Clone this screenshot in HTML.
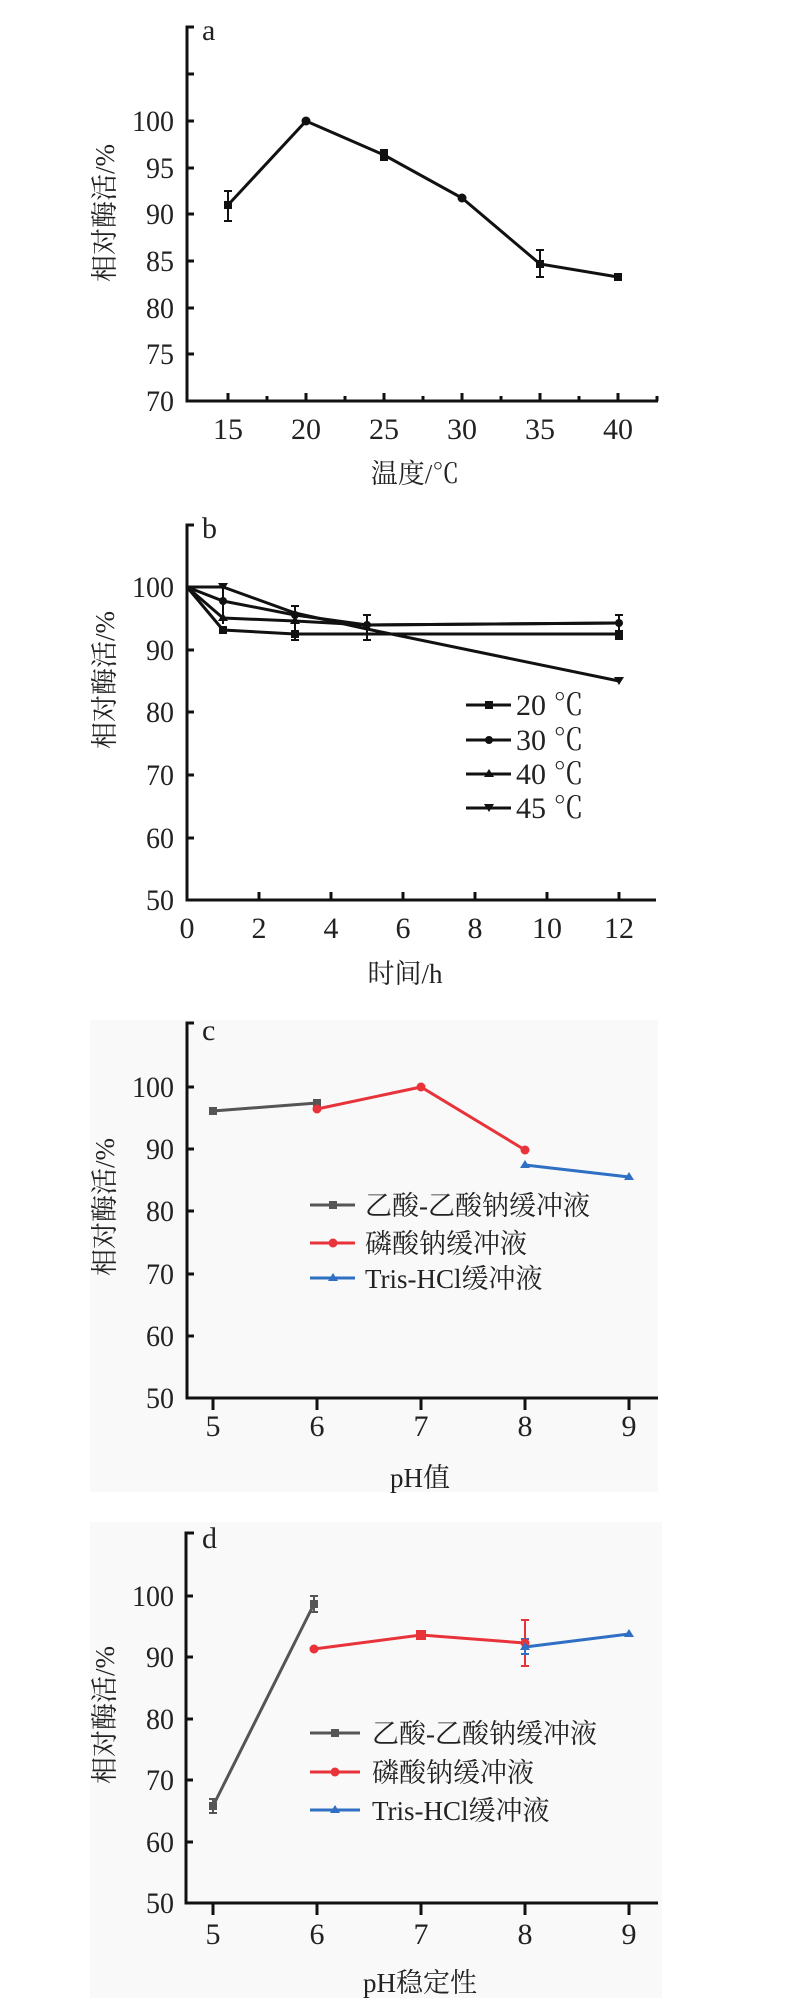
<!DOCTYPE html>
<html><head><meta charset="utf-8"><style>
html,body{margin:0;padding:0;background:#fff}
svg{display:block}
text{font-family:"Liberation Serif","Noto Serif CJK SC",serif;fill:#222}
.t{font-size:30px}
.l{font-family:"Liberation Serif","Noto Serif CJK SC",serif;font-size:27px}
</style></head><body>
<svg width="790" height="2015" viewBox="0 0 790 2015" xmlns="http://www.w3.org/2000/svg">
<rect x="90" y="1020" width="568" height="472" fill="#f9f9f9"/>
<rect x="90" y="1522" width="572" height="476" fill="#f9f9f9"/>

<!-- Chart a -->
<g stroke="#111" stroke-width="3" fill="none">
<path d="M194 27 H187 V401 H658"/>
<path d="M187 74h7M187 121h7M187 168h7M187 214h7M187 261h7M187 308h7M187 354h7"/>
<path d="M228 401v-8M306 401v-8M384 401v-8M462 401v-8M540 401v-8M618 401v-8M267 401v-5M345 401v-5M423 401v-5M501 401v-5M579 401v-5M657 401v-5"/>
<polyline points="228,205 306,121 384,155 462,198 540,264 618,277"/>
<path stroke-width="2" d="M228 191v30M224 191h8M224 221h8M384 150v10M380 150h8M380 160h8M540 250v27M536 250h8M536 277h8"/>
</g>
<g fill="#111"><rect x="224" y="201" width="8" height="8"/><circle cx="306" cy="121" r="4.5"/><rect x="380" y="151" width="8" height="8"/><circle cx="462" cy="198" r="4.5"/><rect x="536" y="260" width="8" height="8"/><rect x="614" y="273" width="8" height="8"/></g>
<text x="202" y="40" class="t" font-size="26">a</text>
<g class="t" text-anchor="end">
<text x="174" y="131" textLength="42" lengthAdjust="spacingAndGlyphs">100</text>
<text x="174" y="178" textLength="28" lengthAdjust="spacingAndGlyphs">95</text>
<text x="174" y="224" textLength="28" lengthAdjust="spacingAndGlyphs">90</text>
<text x="174" y="271" textLength="28" lengthAdjust="spacingAndGlyphs">85</text>
<text x="174" y="318" textLength="28" lengthAdjust="spacingAndGlyphs">80</text>
<text x="174" y="364" textLength="28" lengthAdjust="spacingAndGlyphs">75</text>
<text x="174" y="411" textLength="28" lengthAdjust="spacingAndGlyphs">70</text>
</g>
<g class="t" text-anchor="middle">
<text x="228" y="439">15</text><text x="306" y="439">20</text><text x="384" y="439">25</text><text x="462" y="439">30</text><text x="540" y="439">35</text><text x="618" y="439">40</text>
</g>
<text x="415" y="483" class="l" text-anchor="middle" font-size="28">温度/℃</text>
<text transform="translate(114,213) rotate(-90)" class="l" text-anchor="middle" font-size="28">相对酶活/%</text>

<!-- Chart b -->
<g stroke="#111" stroke-width="3" fill="none">
<path d="M194 525 H187 V900 H656"/>
<path d="M187 587h7M187 650h7M187 712h7M187 775h7M187 838h7"/>
<path d="M259 900v-8M331 900v-8M403 900v-8M475 900v-8M547 900v-8M619 900v-8"/>
<polyline points="187,587 223,630 295,634 367,634 619,634"/>
<polyline points="187,587 223,601 295,615 367,625 619,623"/>
<polyline points="187,587 223,618 295,621 367,625 619,623"/>
<polyline points="187,587 223,587 295,613 367,629 619,681"/>
<path stroke-width="2" d="M295 606v34M291 606h8M291 640h8M367 615v25M363 615h8M363 640h8M619 615v24M615 615h8M615 639h8M223 584v40"/>
<path d="M466 705h45M466 740h45M466 774h45M466 808h45"/>
</g>
<g fill="#111">
<rect x="219" y="626" width="8" height="8"/><rect x="291" y="630" width="8" height="8"/><rect x="615" y="630" width="8" height="8"/>
<circle cx="223" cy="601" r="4"/><circle cx="295" cy="615" r="4"/><circle cx="367" cy="625" r="4"/><circle cx="619" cy="623" r="4"/>
<path d="M223 613l5 8h-10zM295 616l5 8h-10z"/>
<path d="M218 583h10l-5 8zM614 677h10l-5 8z"/>
<rect x="485" y="701" width="8" height="8"/><circle cx="489" cy="740" r="4"/><path d="M489 769l5 8h-10z"/><path d="M484 804h10l-5 8z"/>
</g>
<text x="202" y="538" class="t" font-size="26">b</text>
<g class="t" text-anchor="end">
<text x="174" y="597" textLength="42" lengthAdjust="spacingAndGlyphs">100</text>
<text x="174" y="660" textLength="28" lengthAdjust="spacingAndGlyphs">90</text>
<text x="174" y="722" textLength="28" lengthAdjust="spacingAndGlyphs">80</text>
<text x="174" y="785" textLength="28" lengthAdjust="spacingAndGlyphs">70</text>
<text x="174" y="848" textLength="28" lengthAdjust="spacingAndGlyphs">60</text>
<text x="174" y="910" textLength="28" lengthAdjust="spacingAndGlyphs">50</text>
</g>
<g class="t" text-anchor="middle">
<text x="187" y="938">0</text><text x="259" y="938">2</text><text x="331" y="938">4</text><text x="403" y="938">6</text><text x="475" y="938">8</text><text x="547" y="938">10</text><text x="619" y="938">12</text>
</g>
<g class="t" font-size="28"><text x="516" y="715">20 ℃</text><text x="516" y="750">30 ℃</text><text x="516" y="784">40 ℃</text><text x="516" y="818">45 ℃</text></g>
<text x="405" y="983" class="l" text-anchor="middle" font-size="28">时间/h</text>
<text transform="translate(114,680) rotate(-90)" class="l" text-anchor="middle" font-size="28">相对酶活/%</text>

<!-- Chart c -->
<g stroke="#111" stroke-width="3" fill="none">
<path d="M194 1023 H187 V1398 H658"/>
<path d="M187 1087h7M187 1149h7M187 1211h7M187 1274h7M187 1336h7"/>
<path d="M213 1398v12M317 1398v12M421 1398v12M525 1398v12M629 1398v12"/>
</g>
<g stroke-width="3" fill="none">
<polyline stroke="#555" points="213,1111 317,1103"/>
<polyline stroke="#e8333a" points="317,1109 421,1087 525,1150"/>
<polyline stroke="#2f6fc4" points="525,1165 629,1177"/>
<path stroke="#555" d="M310 1205h45"/><path stroke="#e8333a" d="M310 1243h45"/><path stroke="#2f6fc4" d="M310 1278h45"/>
</g>
<rect x="209" y="1107" width="8" height="8" fill="#555"/><rect x="313" y="1099" width="8" height="8" fill="#555"/>
<circle cx="317" cy="1109" r="4.5" fill="#e8333a"/><circle cx="421" cy="1087" r="4.5" fill="#e8333a"/><circle cx="525" cy="1150" r="4.5" fill="#e8333a"/>
<path d="M525 1160l5 8h-10zM629 1172l5 8h-10z" fill="#2f6fc4"/>
<rect x="329" y="1201" width="8" height="8" fill="#555"/><circle cx="333" cy="1243" r="4.5" fill="#e8333a"/><path d="M333 1273l5 8h-10z" fill="#2f6fc4"/>
<text x="202" y="1040" class="t" font-size="26">c</text>
<g class="t" text-anchor="end">
<text x="174" y="1097" textLength="42" lengthAdjust="spacingAndGlyphs">100</text>
<text x="174" y="1159" textLength="28" lengthAdjust="spacingAndGlyphs">90</text>
<text x="174" y="1221" textLength="28" lengthAdjust="spacingAndGlyphs">80</text>
<text x="174" y="1284" textLength="28" lengthAdjust="spacingAndGlyphs">70</text>
<text x="174" y="1346" textLength="28" lengthAdjust="spacingAndGlyphs">60</text>
<text x="174" y="1408" textLength="28" lengthAdjust="spacingAndGlyphs">50</text>
</g>
<g class="t" text-anchor="middle">
<text x="213" y="1436">5</text><text x="317" y="1436">6</text><text x="421" y="1436">7</text><text x="525" y="1436">8</text><text x="629" y="1436">9</text>
</g>
<g class="l"><text x="365" y="1215">乙酸-乙酸钠缓冲液</text><text x="365" y="1253">磷酸钠缓冲液</text><text x="365" y="1288">Tris-HCl缓冲液</text></g>
<text x="420" y="1487" class="l" text-anchor="middle" font-size="28">pH值</text>
<text transform="translate(114,1207) rotate(-90)" class="l" text-anchor="middle" font-size="28">相对酶活/%</text>

<!-- Chart d -->
<g stroke="#111" stroke-width="3" fill="none">
<path d="M194 1533 H186 V1903 H658"/>
<path d="M186 1596h7M186 1657h7M186 1719h7M186 1780h7M186 1842h7"/>
<path d="M213 1903v12M317 1903v12M421 1903v12M525 1903v12M629 1903v12"/>
</g>
<g stroke-width="3" fill="none">
<polyline stroke="#555" points="213,1806 314,1604"/>
<polyline stroke="#e8333a" points="314,1649 421,1635 525,1643"/>
<polyline stroke="#2f6fc4" points="525,1647 629,1634"/>
<path stroke="#555" stroke-width="2" d="M213 1799v14M209 1799h8M209 1813h8M314 1596v16M310 1596h8M310 1612h8"/>
<path stroke="#e8333a" stroke-width="2" d="M525 1620v46M521 1620h8M521 1666h8M421 1632v6"/>
<path stroke="#2f6fc4" stroke-width="2" d="M525 1639v15M521 1639h8M521 1654h8"/>
<path stroke="#555" d="M310 1733h50"/><path stroke="#e8333a" d="M310 1772h50"/><path stroke="#2f6fc4" d="M310 1810h50"/>
</g>
<rect x="209" y="1802" width="8" height="8" fill="#555"/><rect x="310" y="1600" width="8" height="8" fill="#555"/>
<circle cx="314" cy="1649" r="4.5" fill="#e8333a"/><rect x="416" y="1630" width="10" height="10" fill="#e8333a"/><circle cx="525" cy="1643" r="4.5" fill="#e8333a"/>
<path d="M525 1642l5 8h-10zM629 1629l5 8h-10z" fill="#2f6fc4"/>
<rect x="331" y="1729" width="8" height="8" fill="#555"/><circle cx="335" cy="1772" r="4.5" fill="#e8333a"/><path d="M335 1805l5 8h-10z" fill="#2f6fc4"/>
<text x="202" y="1548" class="t" font-size="26">d</text>
<g class="t" text-anchor="end">
<text x="174" y="1606" textLength="42" lengthAdjust="spacingAndGlyphs">100</text>
<text x="174" y="1667" textLength="28" lengthAdjust="spacingAndGlyphs">90</text>
<text x="174" y="1729" textLength="28" lengthAdjust="spacingAndGlyphs">80</text>
<text x="174" y="1790" textLength="28" lengthAdjust="spacingAndGlyphs">70</text>
<text x="174" y="1852" textLength="28" lengthAdjust="spacingAndGlyphs">60</text>
<text x="174" y="1913" textLength="28" lengthAdjust="spacingAndGlyphs">50</text>
</g>
<g class="t" text-anchor="middle">
<text x="213" y="1944">5</text><text x="317" y="1944">6</text><text x="421" y="1944">7</text><text x="525" y="1944">8</text><text x="629" y="1944">9</text>
</g>
<g class="l"><text x="372" y="1743">乙酸-乙酸钠缓冲液</text><text x="372" y="1782">磷酸钠缓冲液</text><text x="372" y="1820">Tris-HCl缓冲液</text></g>
<text x="420" y="1992" class="l" text-anchor="middle" font-size="28">pH稳定性</text>
<text transform="translate(114,1715) rotate(-90)" class="l" text-anchor="middle" font-size="28">相对酶活/%</text>
</svg>
</body></html>
